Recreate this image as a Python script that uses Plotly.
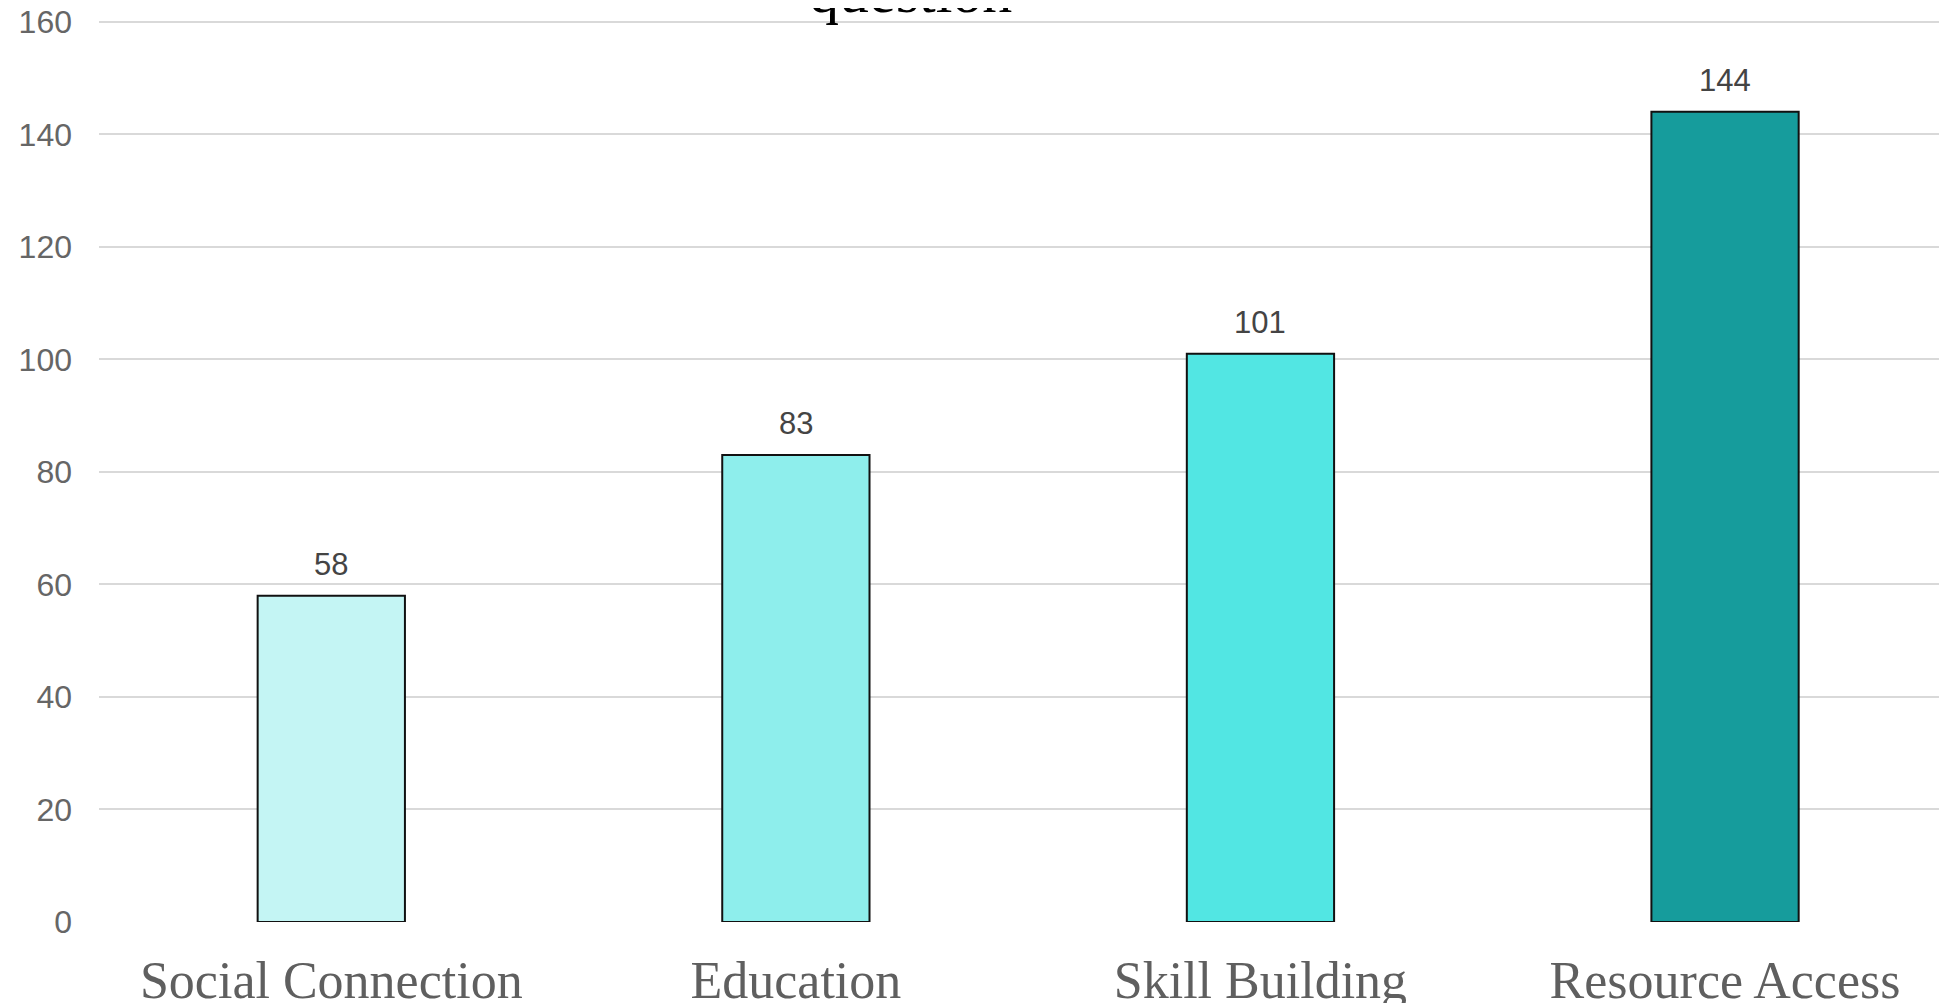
import plotly.graph_objects as go

categories = ["Social Connection", "Education", "Skill Building", "Resource Access"]
values = [58, 83, 101, 144]
bar_colors = ["#C4F5F4", "#8EEEEC", "#52E6E3", "#169C9C"]
y_ticks = [0, 20, 40, 60, 80, 100, 120, 140, 160]
title_text = "question"

fig = go.Figure()
fig.add_trace(go.Bar(
    x=categories,
    y=values,
    width=0.317,
    marker=dict(color=bar_colors, line=dict(color="#111111", width=2)),
    hoverinfo="x+y",
))

for c, v in zip(categories, values):
    fig.add_annotation(
        x=c, y=v, xref="x", yref="y", text=str(v), showarrow=False,
        yanchor="bottom", yshift=12,
        font=dict(family="Liberation Sans, Arial, sans-serif", size=31, color="#444444"),
    )

fig.add_annotation(
    x=0.437, y=1.0, xref="paper", yref="paper", text=title_text,
    showarrow=False, xanchor="center", yanchor="bottom", yshift=-8,
    font=dict(family="Liberation Serif, Times New Roman, serif", size=60, color="#000000"),
)

fig.update_layout(
    template="none",
    width=1947,
    height=1003,
    margin=dict(l=91, r=0, t=11, b=89, pad=0),
    paper_bgcolor="white",
    plot_bgcolor="white",
    showlegend=False,
    xaxis=dict(
        type="category",
        range=[-0.5, 3.495],
        showgrid=False,
        showline=False,
        zeroline=False,
        ticks="",
        automargin=False,
        ticklabelstandoff=23,
        ticklabeloverflow="allow",
        tickfont=dict(family="Liberation Serif, Times New Roman, serif", size=52, color="#5f5f5f"),
    ),
    yaxis=dict(
        range=[0, 160.5],
        tickmode="array",
        tickvals=y_ticks,
        ticktext=[str(t) for t in y_ticks],
        showgrid=True,
        gridcolor="#d9d9d9",
        gridwidth=2,
        zeroline=False,
        showline=False,
        ticks="",
        automargin=False,
        ticklabelstandoff=26,
        ticklabeloverflow="allow",
        tickfont=dict(family="Liberation Sans, Arial, sans-serif", size=32, color="#666666"),
    ),
)

fig.write_html("out.html")
